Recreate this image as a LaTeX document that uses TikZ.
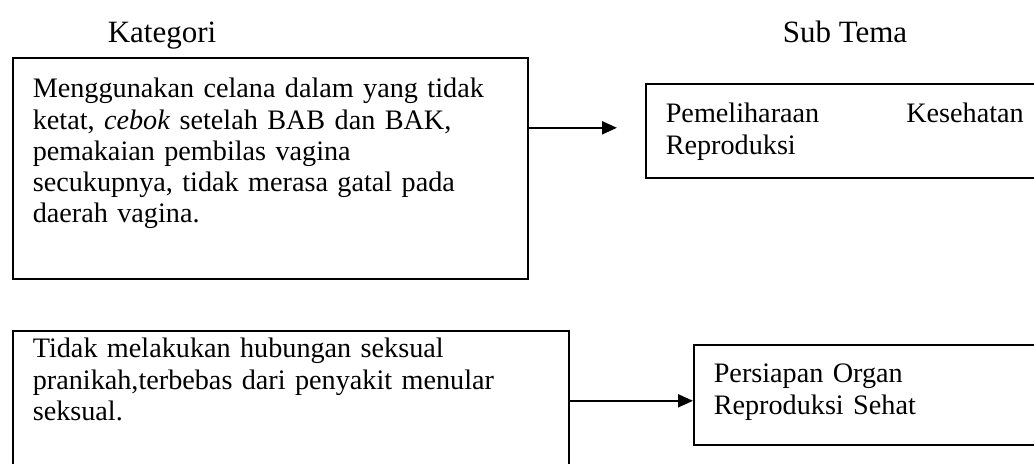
\documentclass[tikz,border=0pt]{standalone}
\usepackage{fontspec}
\setmainfont{Liberation Serif}
\usetikzlibrary{arrows.meta}
\hyphenpenalty=10000

\begin{document}
\begin{tikzpicture}[x=0.5pt, y=-0.5pt,
    kotak/.style={draw, line width=0.8pt, anchor=north west, align=left,
        inner xsep=10pt, inner ysep=0pt, font=\fontsize{14.1}{15.6}\selectfont},
    judul/.style={anchor=base, font=\fontsize{15.5}{18}\selectfont},
    panah/.style={line width=1pt, -{Triangle[length=7.5pt, width=6.5pt]}}]
    % Batas gambar
    \useasboundingbox (0,0) rectangle (1034,463);
    \clip (0,0) rectangle (1034,463);

    % Judul kolom
    \node[judul] (kategori) at (162,42) {Kategori};
    \node[judul] (subtema) at (845,42) {Sub Tema};

    % Kotak kategori
    \node[kotak, text width=237.5pt, text height=20pt, text depth=90.5pt] (kat1) at (12,57)
        {Menggunakan celana dalam yang tidak\\ ketat, \textit{cebok} setelah BAB dan BAK,\\
         pemakaian pembilas vagina\\ secukupnya, tidak merasa gatal pada\\ daerah vagina.};
    \node[kotak, text width=258pt, text height=13.5pt, text depth=61.5pt] (kat2) at (12,330)
        {Tidak melakukan hubungan seksual\\ pranikah,terbebas dari penyakit menular\\ seksual.};

    % Kotak sub tema
    \node[kotak, text width=179pt, text height=19.5pt, text depth=27.5pt] (sub1) at (645,83)
        {Pemeliharaan\hfill Kesehatan\\ Reproduksi};
    \node[kotak, text width=160pt, text height=19pt, text depth=31pt] (sub2) at (693,344)
        {Persiapan Organ\\ Reproduksi Sehat};

    % Panah
    \coordinate (ujung1) at ([xshift=-14pt, yshift=1.5pt]sub1.west);
    \coordinate (ujung2) at ([yshift=-3pt]sub2.west);
    \draw[panah] (kat1.east |- ujung1) -- (ujung1);
    \draw[panah] (kat2.east |- ujung2) -- (ujung2);
\end{tikzpicture}
\end{document}
